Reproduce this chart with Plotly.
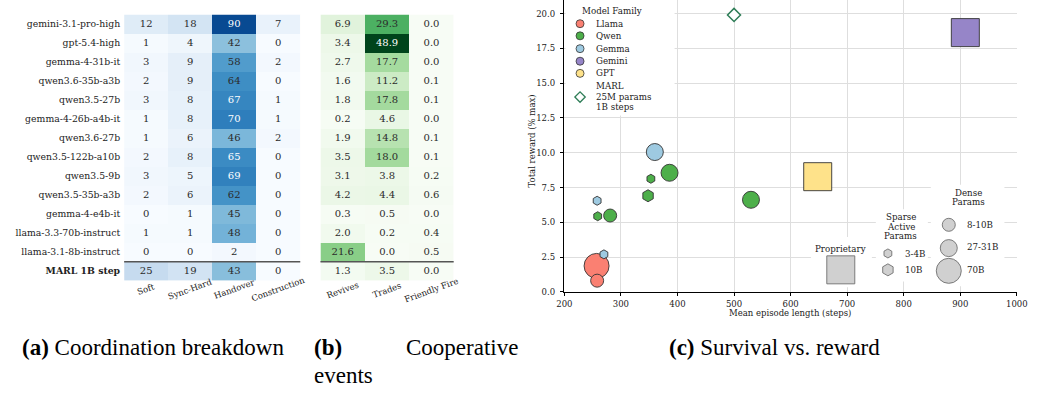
import plotly.graph_objects as go
import plotly.express as px

W, H = 1039, 394

# ---------------- data ----------------
models = ["gemini-3.1-pro-high", "gpt-5.4-high", "gemma-4-31b-it", "qwen3.6-35b-a3b",
          "qwen3.5-27b", "gemma-4-26b-a4b-it", "qwen3.6-27b", "qwen3.5-122b-a10b",
          "qwen3.5-9b", "qwen3.5-35b-a3b", "gemma-4-e4b-it", "llama-3.3-70b-instruct",
          "llama-3.1-8b-instruct"]
marl_label = "MARL 1B step"
rows = models + [marl_label]

coord_cols = ["Soft", "Sync-Hard", "Handover", "Construction"]
soft = [12, 1, 3, 2, 3, 1, 1, 2, 3, 2, 0, 1, 0, 25]
sync_hard = [18, 4, 9, 9, 8, 8, 6, 8, 5, 6, 1, 1, 0, 19]
handover = [90, 42, 58, 64, 67, 70, 46, 65, 69, 62, 45, 48, 2, 43]
construction = [7, 0, 2, 0, 1, 1, 2, 0, 0, 0, 0, 0, 0, 0]

coop_cols = ["Revives", "Trades", "Friendly Fire"]
revives = [6.9, 3.4, 2.7, 1.6, 1.8, 0.2, 1.9, 3.5, 3.1, 4.2, 0.3, 2.0, 21.6, 1.3]
trades = [29.3, 48.9, 17.7, 11.2, 17.8, 4.6, 14.8, 18.0, 3.8, 4.4, 0.5, 0.2, 0.0, 3.5]
friendly_fire = [0.0, 0.0, 0.0, 0.1, 0.1, 0.0, 0.1, 0.1, 0.2, 0.6, 0.0, 0.4, 0.5, 0.0]

family = ["Gemini", "GPT", "Gemma", "Qwen", "Qwen", "Gemma", "Qwen", "Qwen", "Qwen",
          "Qwen", "Gemma", "Llama", "Llama"]
param_kind = ["proprietary", "proprietary", "dense", "sparse", "dense", "sparse", "dense",
              "sparse", "dense", "sparse", "sparse", "dense", "dense"]
param_b = [None, None, 31, 3, 27, 4, 27, 10, 9, 3, 4, 70, 8]
ep_len = [909, 648, 360, 353, 530, 258, 386, 348, 281, 259, 270, 257, 258]
reward = [18.63, 8.28, 10.05, 8.13, 6.62, 6.55, 8.56, 6.91, 5.49, 5.44, 2.70, 1.87, 0.81]
marl_ep_len = [500]
marl_reward = [19.9]

families = ["Llama", "Qwen", "Gemma", "Gemini", "GPT"]
fam_colors = {"Llama": "#fa8072", "Qwen": "#4daf4a", "Gemma": "#9ecae1",
              "Gemini": "#9685c8", "GPT": "#fee28a"}

SERIF = "DejaVu Serif"
CAP = "Liberation Serif"
DARK = "#2b2b2b"


def px_to_paper_x(p):
    return p / W


def px_to_paper_y(p):
    return 1 - p / H


def cscale(cols):
    return [[i / (len(cols) - 1), c] for i, c in enumerate(cols)]


def marker_size(kind, b):
    if kind == "proprietary":
        return 28
    if kind == "sparse":
        return 9 if b <= 4 else 12
    if b >= 60:
        return 25
    if b >= 20:
        return 17
    return 13


def marker_symbol(kind):
    return {"proprietary": "square", "sparse": "hexagon", "dense": "circle"}[kind]


fig = go.Figure()

# ---------------- heatmap (a) ----------------
za = [[soft[i], sync_hard[i], handover[i], construction[i]] for i in range(len(rows))]
fig.add_trace(go.Heatmap(z=za, x=coord_cols, y=rows, colorscale=cscale(px.colors.sequential.Blues),
                         zmin=0, zmax=100, showscale=False, hoverinfo="skip",
                         xaxis="x", yaxis="y"))
tx, ty, tt, tc = [], [], [], []
for i, r in enumerate(rows):
    for j, c in enumerate(coord_cols):
        v = za[i][j]
        tx.append(c); ty.append(r); tt.append(f"{v:d}")
        tc.append("white" if v / 100 > 0.645 else DARK)
fig.add_trace(go.Scatter(x=tx, y=ty, text=tt, mode="text", textposition="middle center",
                         textfont=dict(family=SERIF, size=10, color=tc), hoverinfo="skip",
                         showlegend=False, xaxis="x", yaxis="y"))

# ---------------- heatmap (b) ----------------
zb = [[revives[i], trades[i], friendly_fire[i]] for i in range(len(rows))]
zb_max = max(max(r) for r in zb)
fig.add_trace(go.Heatmap(z=zb, x=coop_cols, y=rows, colorscale=cscale(px.colors.sequential.Greens),
                         zmin=0, zmax=zb_max, showscale=False, hoverinfo="skip",
                         xaxis="x2", yaxis="y2"))
tx, ty, tt, tc = [], [], [], []
for i, r in enumerate(rows):
    for j, c in enumerate(coop_cols):
        v = zb[i][j]
        tx.append(c); ty.append(r); tt.append(f"{v:.1f}")
        tc.append("white" if v / zb_max > 0.645 else DARK)
fig.add_trace(go.Scatter(x=tx, y=ty, text=tt, mode="text", textposition="middle center",
                         textfont=dict(family=SERIF, size=10, color=tc), hoverinfo="skip",
                         showlegend=False, xaxis="x2", yaxis="y2"))

# ---------------- scatter (c) ----------------
for fam in families:
    idx = [i for i in range(len(models)) if family[i] == fam]
    fig.add_trace(go.Scatter(
        x=[ep_len[i] for i in idx], y=[reward[i] for i in idx], mode="markers",
        marker=dict(color=fam_colors[fam],
                    size=[marker_size(param_kind[i], param_b[i]) for i in idx],
                    symbol=[marker_symbol(param_kind[i]) for i in idx],
                    line=dict(color="#333333", width=0.9), opacity=1),
        showlegend=False, hoverinfo="skip", xaxis="x3", yaxis="y3"))
fig.add_trace(go.Scatter(x=marl_ep_len, y=marl_reward, mode="markers",
                         marker=dict(symbol="diamond", size=10, color="white",
                                     line=dict(color="#2e7d57", width=1.5)),
                         showlegend=False, hoverinfo="skip", xaxis="x3", yaxis="y3"))

# ---------------- scatter layout geometry (pixels) ----------------
SX0, SX1 = 566.7, 1027.6
SY_BOT = 295.7
PX_PER_Y = 14.1
y_top_val = SY_BOT / PX_PER_Y


def dx(p):
    return 200 + (p - SX0) / (SX1 - SX0) * 800


def dy(p):
    return (SY_BOT - p) / PX_PER_Y


shapes = []
# white legend boxes (between grid and markers)
for (x0, y0, x1, y1) in [(568, 0, 679, 117),
                         (818, 240, 880, 291),
                         (884, 212, 937, 285),
                         (940, 187, 1015, 290)]:
    shapes.append(dict(type="rect", xref="x3", yref="y3", x0=dx(x0), x1=dx(x1),
                       y0=dy(y0), y1=dy(y1), fillcolor="white", layer="between",
                       line=dict(color="white", width=0)))
# separators in heatmaps
sep = len(rows) - 1.5
for xr, yr in [("x domain", "y"), ("x2 domain", "y2")]:
    shapes.append(dict(type="line", xref=xr, yref=yr, x0=0, x1=1, y0=sep, y1=sep,
                       line=dict(color="#555555", width=1.6), layer="above"))

# ---------------- overlay legend markers (pixel coords) ----------------
leg_fam_y = [24, 36.3, 49.3, 62, 74.3]
fig.add_trace(go.Scatter(x=[582.7] * 5, y=leg_fam_y, mode="markers",
                         marker=dict(size=8, color=[fam_colors[f] for f in families],
                                     line=dict(color="#333333", width=0.8)),
                         showlegend=False, hoverinfo="skip", xaxis="x4", yaxis="y4"))
fig.add_trace(go.Scatter(x=[582.7], y=[98.3], mode="markers",
                         marker=dict(symbol="diamond", size=8, color="white",
                                     line=dict(color="#2e7d57", width=1.3)),
                         showlegend=False, hoverinfo="skip", xaxis="x4", yaxis="y4"))
grey = "#bdbdbd"
fig.add_trace(go.Scatter(x=[958.3, 958.3, 958.3, 896.3, 896.3, 848.3],
                         y=[227.7, 251.3, 274.3, 256.7, 273.3, 273.3], mode="markers",
                         marker=dict(size=[13, 17, 25, 9, 12, 28],
                                     symbol=["circle", "circle", "circle", "hexagon", "hexagon", "square"],
                                     color=grey, line=dict(color="#333333", width=0.9)),
                         showlegend=False, hoverinfo="skip", xaxis="x4", yaxis="y4"))

# ---------------- annotations ----------------
ann = []


def txt(x, y, s, size=8.7, anchor="left", font=SERIF, color="#222222", angle=0, ref=("x4", "y4")):
    ann.append(dict(x=x, y=y, xref=ref[0], yref=ref[1], text=s, showarrow=False,
                    xanchor=anchor, yanchor="middle", textangle=angle, borderpad=0,
                    font=dict(family=font, size=size, color=color)))


txt(584, 11, "Model Family")
for f, yy in zip(families, leg_fam_y):
    txt(597.5, yy, f)
txt(597.5, 87.3, "MARL")
txt(597.5, 98.3, "25M params")
txt(597.5, 108.3, "1B steps")
txt(978.3, 195, "Dense", anchor="center")
txt(978.3, 204.8, "Params", anchor="center")
txt(975.5, 227.7, "8-10B")
txt(975.5, 250.5, "27-31B")
txt(975.5, 273.5, "70B")
txt(909.3, 220, "Sparse", anchor="center")
txt(909.3, 229.6, "Active", anchor="center")
txt(909.3, 239.4, "Params", anchor="center")
txt(912.5, 257, "3-4B")
txt(912.5, 273, "10B")
txt(848.3, 251.7, "Proprietary", anchor="center")
# axis titles
txt(796.5, 317, "Mean episode length (steps)", anchor="center", size=8.5)
txt(534, 143, "Total reward (% max)", anchor="center", size=8.5, angle=-90)

# heatmap column labels (rotated, centred under columns)
for c in coord_cols:
    ann.append(dict(x=c, y=px_to_paper_y(293), xref="x", yref="paper", text=c, showarrow=False,
                    textangle=-20, xanchor="center", yanchor="middle",
                    font=dict(family=SERIF, size=8.5, color="#222222")))
for c in coop_cols:
    ann.append(dict(x=c, y=px_to_paper_y(293.5), xref="x2", yref="paper", text=c, showarrow=False,
                    textangle=-20, xanchor="center", yanchor="middle",
                    font=dict(family=SERIF, size=8.5, color="#222222")))

# captions
txt(13, 352, "<b>(a)</b> Coordination breakdown", size=23, font=CAP, color="black")
txt(311, 352, "<b>(b)</b>", size=23, font=CAP, color="black")
txt(404, 352, "Cooperative", size=23, font=CAP, color="black")
txt(311, 380, "events", size=23, font=CAP, color="black")
txt(672, 352, "<b>(c)</b> Survival vs. reward", size=23, font=CAP, color="black")

# ---------------- layout ----------------
HY0, HY1 = 14.7, 284.3
hm_ydom = [px_to_paper_y(HY1), px_to_paper_y(HY0)]
ticktext = [r if r != marl_label else f"<b>{r}</b>" for r in rows]
n_rows = len(rows)

hm_x = dict(showticklabels=False, ticks="", showgrid=False, zeroline=False, showline=False,
            fixedrange=True, autorange=False)
fig.update_layout(
    width=W, height=H, margin=dict(l=0, r=0, t=0, b=0),
    paper_bgcolor="white", plot_bgcolor="rgba(0,0,0,0)",
    showlegend=False,
    xaxis=dict(hm_x, domain=[px_to_paper_x(118.3), px_to_paper_x(297.7)], anchor="y",
               categoryorder="array", categoryarray=coord_cols,
               range=[-0.5, len(coord_cols) - 0.5]),
    yaxis=dict(domain=hm_ydom, anchor="x", autorange=False, range=[n_rows - 0.5, -0.5],
               categoryorder="array",
               categoryarray=rows, tickmode="array", tickvals=rows, ticktext=ticktext,
               ticks="", showgrid=False, zeroline=False, showline=False, ticklabelstandoff=3,
               tickfont=dict(family=SERIF, size=9.3, color="#222222")),
    xaxis2=dict(hm_x, domain=[px_to_paper_x(318.3), px_to_paper_x(454)], anchor="y2",
                categoryorder="array", categoryarray=coop_cols,
                range=[-0.5, len(coop_cols) - 0.5]),
    yaxis2=dict(domain=hm_ydom, anchor="x2", autorange=False, range=[n_rows - 0.5, -0.5],
                categoryorder="array",
                categoryarray=rows, showticklabels=False, ticks="", showgrid=False,
                zeroline=False, showline=False),
    xaxis3=dict(domain=[px_to_paper_x(SX0), px_to_paper_x(SX1)], anchor="y3", range=[200, 1000],
                dtick=100, tick0=200, showgrid=True, gridcolor="#dedede", gridwidth=0.8,
                zeroline=False, showline=True, linecolor="black", linewidth=1,
                ticks="outside", ticklen=3.5, tickwidth=0.8, tickcolor="black",
                tickfont=dict(family=SERIF, size=8.5, color="#222222"), ticklabelstandoff=0),
    yaxis3=dict(domain=[px_to_paper_y(SY_BOT), 1], anchor="x3", range=[0, y_top_val],
                dtick=2.5, tick0=0, tickformat=".1f", showgrid=True, gridcolor="#dedede",
                gridwidth=0.8, zeroline=False, showline=True, linecolor="black", linewidth=1,
                ticks="outside", ticklen=3.5, tickwidth=0.8, tickcolor="black",
                tickfont=dict(family=SERIF, size=8.5, color="#222222"), ticklabelstandoff=3),
    xaxis4=dict(domain=[0, 1], range=[0, W], visible=False, anchor="y4", fixedrange=True),
    yaxis4=dict(domain=[0, 1], range=[H, 0], visible=False, anchor="x4", fixedrange=True),
    shapes=shapes,
    annotations=ann,
)

fig.write_html("out.html", config={"displayModeBar": False},
               post_script="document.body.style.margin='0';document.body.style.overflow='hidden';")
